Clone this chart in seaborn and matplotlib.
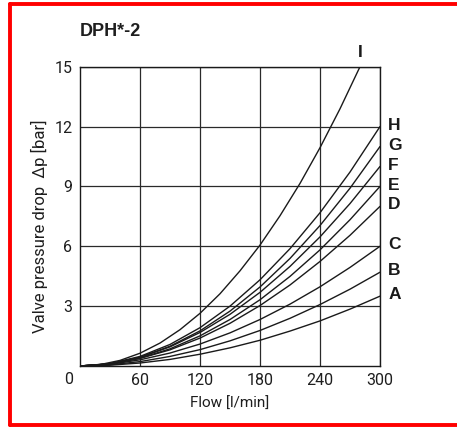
import pandas as pd
import matplotlib
matplotlib.use("Agg")
import matplotlib.pyplot as plt
from matplotlib.lines import Line2D
import seaborn as sns

# Flow grid [l/min]
flow = [0, 30, 60, 90, 120, 150, 180, 210, 240, 270, 300]

# Pressure drop [bar] per curve
dp_A = [0, 0.04, 0.15, 0.33, 0.59, 0.91, 1.29, 1.75, 2.26, 2.85, 3.5]
dp_B = [0, 0.06, 0.22, 0.48, 0.82, 1.26, 1.78, 2.39, 3.08, 3.85, 4.7]
dp_C = [0, 0.08, 0.31, 0.65, 1.10, 1.66, 2.33, 3.10, 3.97, 4.94, 6.0]
dp_D = [0, 0.10, 0.38, 0.81, 1.40, 2.14, 3.03, 4.06, 5.24, 6.55, 8.0]
dp_E = [0, 0.10, 0.39, 0.86, 1.51, 2.33, 3.32, 4.49, 5.82, 7.33, 9.0]
dp_F = [0, 0.11, 0.43, 0.96, 1.68, 2.59, 3.69, 4.99, 6.47, 8.14, 10.0]
dp_G = [0, 0.11, 0.44, 0.99, 1.76, 2.75, 3.96, 5.39, 7.04, 8.91, 11.0]
dp_H = [0, 0.12, 0.48, 1.08, 1.92, 3.00, 4.32, 5.88, 7.68, 9.72, 12.0]

# Curve I stops at 15 bar
flow_I = [0, 20, 40, 60, 80, 100, 120, 140, 160, 180, 200, 220, 240, 260, 280]
dp_I = [0, 0.07, 0.28, 0.64, 1.15, 1.82, 2.64, 3.62, 4.77, 6.06, 7.53, 9.15, 10.94, 12.89, 15.0]

curve_names = ["A", "B", "C", "D", "E", "F", "G", "H"]
curve_values = [dp_A, dp_B, dp_C, dp_D, dp_E, dp_F, dp_G, dp_H]

x_ticks = [60, 120, 180, 240, 300]
y_ticks = [3, 6, 9, 12, 15]

# Build long table for seaborn
rows = []
for name, values in zip(curve_names, curve_values):
    for q, p in zip(flow, values):
        rows.append({"curve": name, "flow": q, "dp": p})
for q, p in zip(flow_I, dp_I):
    rows.append({"curve": "I", "flow": q, "dp": p})
df = pd.DataFrame(rows)

sns.set_style("white")
plt.rcParams["font.family"] = ["Roboto", "DejaVu Sans"]

ink = "#1a1a1a"
txt = "#1e1e1e"
bold_font = ["Liberation Sans", "DejaVu Sans"]

fig = plt.figure(figsize=(4.57, 4.30), dpi=100)
ax = fig.add_axes([80 / 457, 1 - 366 / 430, 300 / 457, 299.3 / 430])

sns.lineplot(data=df, x="flow", y="dp", units="curve", estimator=None,
             color=ink, linewidth=1.0, ax=ax, legend=False)

ax.set_xlim(0, 300)
ax.set_ylim(0, 15)
ax.set_xticks(x_ticks)
ax.set_yticks(y_ticks)
ax.grid(True, color="#2a2a2a", linewidth=0.9)
for spine in ax.spines.values():
    spine.set_color(ink)
    spine.set_linewidth(1.0)
ax.tick_params(length=0, labelsize=11.5, labelcolor=txt)
ax.tick_params(axis="x", pad=5)
ax.tick_params(axis="y", pad=5.5)

# shared origin label
ax.annotate("0", xy=(0, 0), xytext=(-8, -9.5), textcoords="offset points",
            ha="center", va="center", fontsize=11.5, color=txt)

ax.set_xlabel("Flow [l/min]", fontsize=11, color=txt, labelpad=6)
ax.set_ylabel("Valve pressure drop  \u0394p [bar]", fontsize=12, color=txt)
ax.yaxis.set_label_coords(-0.108, 0.468)

# curve letters at the end of each curve
for name, values in zip(curve_names, curve_values):
    ax.annotate(name, xy=(flow[-1], values[-1]), xytext=(6, 1), textcoords="offset points",
                ha="left", va="center", fontsize=12.5, fontweight="bold",
                family=bold_font, color=ink, annotation_clip=False)
ax.annotate("I", xy=(flow_I[-1], dp_I[-1]), xytext=(0, 10), textcoords="offset points",
            ha="center", va="center", fontsize=12.5, fontweight="bold",
            family=bold_font, color=ink, annotation_clip=False)

fig.text(80 / 457, 1 - 32 / 430, "DPH*-2", ha="left", va="center", fontsize=13,
         fontweight="bold", family=bold_font, color=txt)

# red frame (open on the right)
red = "#ff0000"
x0, y_top, y_bot = 9.5 / 457, 1 - 3.5 / 430, 1 - 425 / 430
fig.add_artist(Line2D([x0, x0], [y_bot, y_top], color=red, linewidth=2.8, transform=fig.transFigure))
fig.add_artist(Line2D([x0, 1.01], [y_top, y_top], color=red, linewidth=2.8, transform=fig.transFigure))
fig.add_artist(Line2D([x0, 1.01], [y_bot, y_bot], color=red, linewidth=2.8, transform=fig.transFigure))

fig.savefig("out.png", dpi=100)
